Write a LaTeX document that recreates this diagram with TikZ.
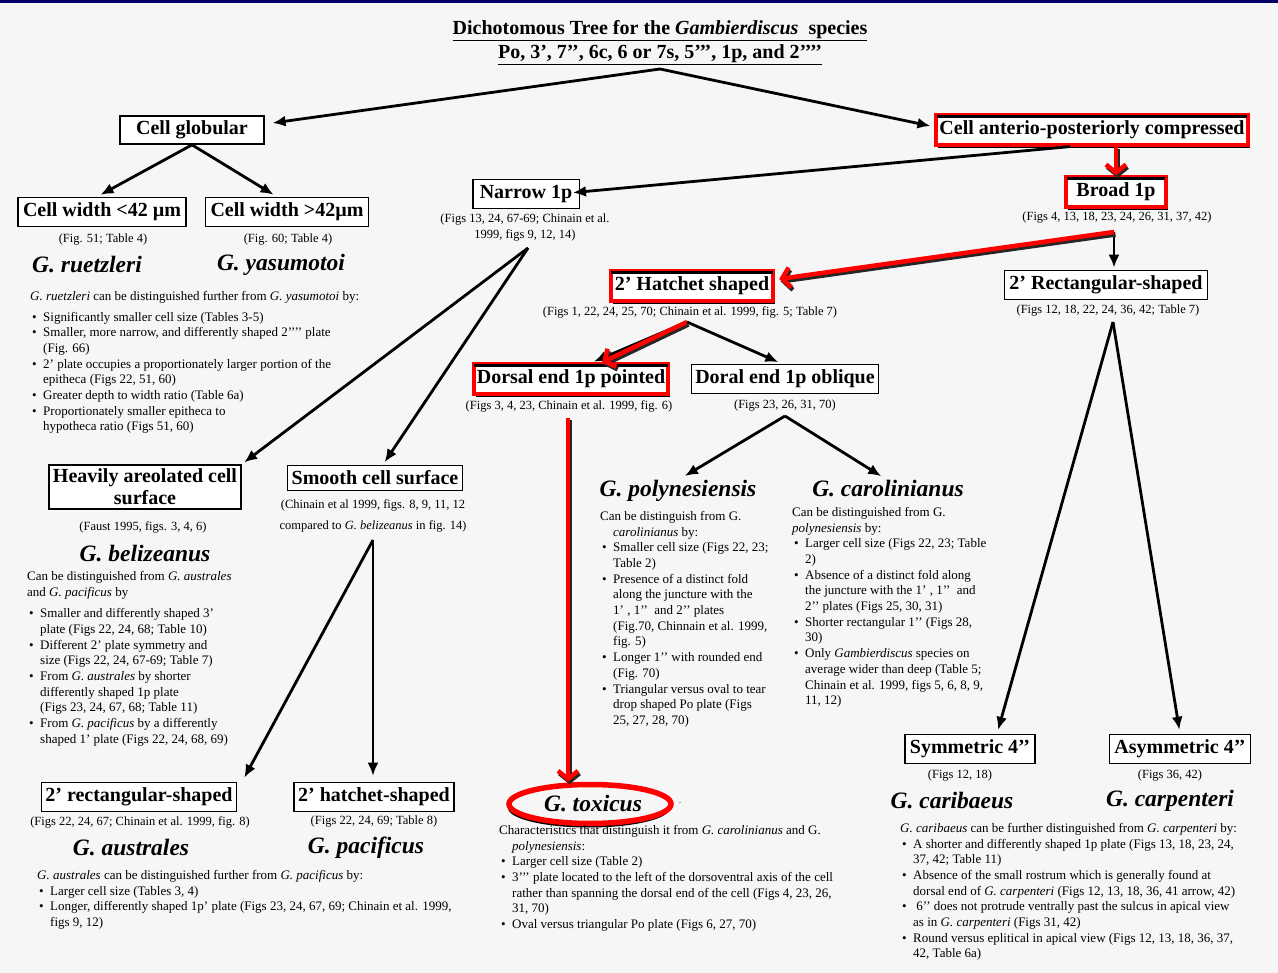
\documentclass[tikz,border=0pt]{standalone}
\usepackage{fontspec}
\setmainfont{Liberation Serif}
\usetikzlibrary{arrows.meta,shapes.geometric,shadows,calc}
\definecolor{bgc}{RGB}{246,246,246}
\definecolor{navy}{RGB}{0,0,102}
\newcommand\bul{\hspace*{2pt}\makebox[11pt][l]{\textbullet}}
\newcommand\hind{\hspace*{13pt}}
\tikzset{
 labelbox/.style={draw, line width=1.4pt, fill=white, inner xsep=7pt, inner ysep=5.5pt, font=\fontsize{20}{22}\selectfont\bfseries, align=center},
 redbox/.style={labelbox, draw=red, line width=4pt, drop shadow={shadow xshift=2pt, shadow yshift=-3pt, fill=black, opacity=1}},
 capt/.style={font=\fontsize{12.5}{16}\selectfont, align=center, inner sep=0pt},
 spname/.style={font=\fontsize{23.5}{26}\selectfont\bfseries\itshape, inner sep=0pt},
 bodytext/.style={font=\fontsize{13}{15.7}\selectfont, align=left, inner sep=0pt, anchor=north west},
 conn/.style={line width=2.8pt, -{Latex[length=13pt,width=11pt]}},
 redarr/.style={draw=red, line width=4.5pt, -{Straight Barb[length=8pt,width=20pt]}},
 redsh/.style={draw=black!85, line width=4.5pt, -{Straight Barb[length=8pt,width=20pt]}, transform canvas={shift={(1.5pt,-2.5pt)}}},
 titlestyle/.style={font=\fontsize{20}{24}\selectfont\bfseries, align=center, inner sep=0pt},
}
\begin{document}
\begin{tikzpicture}[x=1pt,y=-1pt]
\fill[bgc] (0,0) rectangle (1278,973);
\useasboundingbox (0,0) rectangle (1278,973);
\fill[navy] (0,0) rectangle (1278,3);

% title
\node[titlestyle] (title) at (660,43) {\underline{Dichotomous Tree for the \textit{Gambierdiscus}\ \ species}\\\underline{Po, 3’, 7’’, 6c, 6 or 7s, 5’’’, 1p, and 2’’’’}};
\coordinate (root) at (660,69);

% left branch
\node[labelbox, inner xsep=16pt, inner ysep=5pt] (globular) at (192,130) {Cell globular};
\node[labelbox, inner xsep=5pt] (cw1) at (102,212) {Cell width <42 µm};
\node[labelbox, inner xsep=5pt] (cw2) at (287,212) {Cell width >42µm};
\node[capt] (cw1cap) at (103,240) {(Fig. 51; Table 4)};
\node[capt] (cw2cap) at (288,240) {(Fig. 60; Table 4)};
\node[spname] (ruet) at (87,265) {G. ruetzleri};
\node[spname] (yasu) at (281,265) {G. yasumotoi};
\node[bodytext] (ruettext) at (30,291) {\textit{G. ruetzleri} can be distinguished further from \textit{G. yasumotoi} by:\\[5pt]
\bul Significantly smaller cell size (Tables 3-5)\\
\bul Smaller, more narrow, and differently shaped 2’’’’ plate\\
\hind (Fig. 66)\\
\bul 2’ plate occupies a proportionately larger portion of the\\
\hind epitheca (Figs 22, 51, 60)\\
\bul Greater depth to width ratio (Table 6a)\\
\bul Proportionately smaller epitheca to\\
\hind hypotheca ratio (Figs 51, 60)};

% right top
\node[redbox, inner xsep=3pt] (compressed) at (1092,130) {Cell anterio-posteriorly compressed};
\node[redbox, inner xsep=10pt] (broad) at (1116,192) {Broad 1p};
\node[capt] (broadcap) at (1117,218) {(Figs 4, 13, 18, 23, 24, 26, 31, 37, 42)};
\coordinate (bc) at (1114,232);
\node[labelbox, inner xsep=5pt] (rect) at (1106,285) {2’ Rectangular-shaped};
\node[capt] (rectcap) at (1108,311) {(Figs 12, 18, 22, 24, 36, 42; Table 7)};
\coordinate (rc) at (1113,322);

% middle
\node[labelbox] (narrow) at (526,194) {Narrow 1p};
\node[capt] (narrowcap) at (525,228) {(Figs 13, 24, 67-69; Chinain et al.\\1999, figs 9, 12, 14)};
\coordinate (nc) at (528,248);
\node[redbox, inner xsep=4pt] (hatch) at (692,286) {2’ Hatchet shaped};
\node[capt] (hatchcap) at (690,312) {(Figs 1, 22, 24, 25, 70; Chinain et al. 1999, fig. 5; Table 7)};
\coordinate (hc) at (687,322);
\node[redbox, inner xsep=3pt] (pointed) at (571,379) {Dorsal end 1p pointed};
\node[labelbox, inner xsep=4pt] (oblique) at (785,379) {Doral end 1p oblique};
\node[capt] (pointedcap) at (569,406) {(Figs 3, 4, 23, Chinain et al. 1999, fig. 6)};
\node[capt] (obliquecap) at (785,406) {(Figs 23, 26, 31, 70)};
\coordinate (pc) at (568,418);
\coordinate (oc) at (785,416);

% inner black top lines of red boxes
\foreach \n in {compressed,broad,hatch,pointed}
  \draw[line width=2.5pt] ([shift={(2.5,3)}]\n.north west) -- ([shift={(-2.5,3)}]\n.north east);

\node[spname] (poly) at (678,491) {G. polynesiensis};
\node[bodytext] (polytext) at (600,511) {Can be distinguish from G.\\
\hind\textit{carolinianus} by:\\
\bul Smaller cell size (Figs 22, 23;\\
\hind Table 2)\\
\bul Presence of a distinct fold\\
\hind along the juncture with the\\
\hind 1’ , 1’’ \ and 2’’ plates\\
\hind (Fig.70, Chinnain et al. 1999,\\
\hind fig. 5)\\
\bul Longer 1’’ with rounded end\\
\hind (Fig. 70)\\
\bul Triangular versus oval to tear\\
\hind drop shaped Po plate (Figs\\
\hind 25, 27, 28, 70)};

\node[spname] (caro) at (888,489) {G. carolinianus};
\node[bodytext] (carotext) at (792,507) {Can be distinguished from G.\\
\textit{polynesiensis} by:\\
\bul Larger cell size (Figs 22, 23; Table\\
\hind 2)\\
\bul Absence of a distinct fold along\\
\hind the juncture with the 1’ , 1’’ \ and\\
\hind 2’’ plates (Figs 25, 30, 31)\\
\bul Shorter rectangular 1’’ (Figs 28,\\
\hind 30)\\
\bul Only \textit{Gambierdiscus} species on\\
\hind average wider than deep (Table 5;\\
\hind Chinain et al. 1999, figs 5, 6, 8, 9,\\
\hind 11, 12)};

% left middle
\node[labelbox, inner xsep=4pt, inner ysep=4pt] (heavy) at (145,487) {Heavily areolated cell\\surface};
\node[capt] (heavycap) at (143,527) {(Faust 1995, figs. 3, 4, 6)};
\node[spname] (beli) at (145,554) {G. belizeanus};
\node[bodytext] (belitext) at (27,571) {Can be distinguished from \textit{G. australes}\\
and \textit{G. pacificus} by\\[6pt]
\bul Smaller and differently shaped 3’\\
\hind plate (Figs 22, 24, 68; Table 10)\\
\bul Different 2’ plate symmetry and\\
\hind size (Figs 22, 24, 67-69; Table 7)\\
\bul From \textit{G. australes} by shorter\\
\hind differently shaped 1p plate\\
\hind (Figs 23, 24, 67, 68; Table 11)\\
\bul From \textit{G. pacificus} by a differently\\
\hind shaped 1’ plate (Figs 22, 24, 68, 69)};

\node[labelbox, inner xsep=4pt] (smooth) at (375,478) {Smooth cell surface};
\node[capt, font=\fontsize{12.5}{21}\selectfont] (smoothcap) at (373,516) {(Chinain et al 1999, figs. 8, 9, 11, 12\\compared to \textit{G. belizeanus} in fig. 14{\large )}};
\coordinate (sc) at (373,540);

% bottom left
\node[labelbox, inner xsep=4pt] (rect2) at (139,797) {2’ rectangular-shaped};
\node[labelbox, inner xsep=4pt] (hatch2) at (374,797) {2’ hatchet-shaped};
\node[capt] (rect2cap) at (140,822) {(Figs 22, 24, 67; Chinain et al. 1999, fig. 8)};
\node[capt] (hatch2cap) at (374,822) {(Figs 22, 24, 69; Table 8)};
\node[spname] (aust) at (131,848) {G. australes};
\node[spname] (paci) at (366,848) {G. pacificus};
\node[bodytext] (austext) at (37,870) {\textit{G. australes} can be distinguished further from \textit{G. pacificus} by:\\
\bul Larger cell size (Tables 3, 4)\\
\bul Longer, differently shaped 1p’ plate (Figs 23, 24, 67, 69; Chinain et al. 1999,\\
\hind figs 9, 12)};

% toxicus
\node[ellipse, draw=red, line width=5.5pt, fill=bgc, minimum width=162pt, minimum height=39pt, inner sep=0pt,
  drop shadow={shadow xshift=-1pt, shadow yshift=-4pt, fill=black, opacity=1},
  font=\fontsize{23.5}{26}\selectfont\bfseries\itshape] (toxicus) at (590,804) {\hspace*{6pt}G. toxicus};
\node[font=\fontsize{12}{14}\selectfont, text=gray] (dot) at (680,803) {.};
\node[bodytext] (toxtext) at (499,825) {Characteristics that distinguish it from \textit{G. carolinianus} and G.\\
\hind\textit{polynesiensis}:\\
\bul Larger cell size (Table 2)\\
\bul 3’’’ plate located to the left of the dorsoventral axis of the cell\\
\hind rather than spanning the dorsal end of the cell (Figs 4, 23, 26,\\
\hind 31, 70)\\
\bul Oval versus triangular Po plate (Figs 6, 27, 70)};

% bottom right
\node[labelbox, inner xsep=5pt] (sym) at (970,749) {Symmetric 4’’};
\node[labelbox, inner xsep=5pt] (asym) at (1180,749) {Asymmetric 4’’};
\node[capt] (symcap) at (960,776) {(Figs 12, 18)};
\node[capt] (asymcap) at (1170,776) {(Figs 36, 42)};
\node[spname] (cari) at (952,801) {G. caribaeus};
\node[spname] (carp) at (1170,801) {G. carpenteri};
\node[bodytext] (caritext) at (900,823) {\textit{G. caribaeus} can be further distinguished from \textit{G. carpenteri} by:\\
\bul A shorter and differently shaped 1p plate (Figs 13, 18, 23, 24,\\
\hind 37, 42; Table 11)\\
\bul Absence of the small rostrum which is generally found at\\
\hind dorsal end of \textit{G. carpenteri} (Figs 12, 13, 18, 36, 41 arrow, 42)\\
\bul \ 6’’ does not protrude ventrally past the sulcus in apical view\\
\hind as in \textit{G. carpenteri} (Figs 31, 42)\\
\bul Round versus eplitical in apical view (Figs 12, 13, 18, 36, 37,\\
\hind 42, Table 6a)};

% connectors
\draw[conn] (root) -- ([shift={(8,-7)}]globular.east);
\draw[conn] (root) -- ([shift={(-4,-4)}]compressed.west);
\draw[conn, shorten >=4pt] (globular.south) -- ([xshift=-5pt]cw1.north);
\draw[conn, shorten >=4pt] (globular.south) -- ([xshift=-10pt]cw2.north);
\draw[conn, shorten >=-7pt] ([xshift=-22pt]compressed.south) -- ([yshift=2pt]narrow.east);
\draw[redsh] (compressed.south -| broad.north) -- (broad.north);
\draw[redarr] (compressed.south -| broad.north) -- (broad.north);
\draw[conn, shorten >=2pt] (bc) -- (bc |- rect.north);
\draw[redsh] (bc) -- ([shift={(4,-7)}]hatch.east);
\draw[redarr] (bc) -- ([shift={(4,-7)}]hatch.east);
\draw[conn, shorten >=4pt] (rc) -- ([xshift=27pt]sym.north);
\draw[conn, shorten >=4pt] (rc) -- (asym.north);
\draw[conn, shorten >=3pt] (nc) -- (heavy.north east);
\draw[conn, shorten >=3pt] (nc) -- ([xshift=8pt]smooth.north);
\draw[conn, shorten >=2pt] (hc) -- ([xshift=21pt]pointed.north);
\draw[redsh] (hc) -- ([xshift=31pt]pointed.north);
\draw[redarr] (hc) -- ([xshift=31pt]pointed.north);
\draw[conn, shorten >=4pt] (hc) -- ([xshift=-3pt]oblique.north);
\draw[redsh] (pc) -- (pc |- toxicus.north);
\draw[redarr] (pc) -- (pc |- toxicus.north);
\draw[conn, shorten >=8pt] (oc) -- (poly.north);
\draw[conn, shorten >=8pt] (oc) -- (caro.north);
\draw[conn] (sc) -- ([shift={(7,-4)}]rect2.north east);
\draw[conn, shorten >=6pt] (sc) -- (sc |- hatch2.north);
\end{tikzpicture}
\end{document}
